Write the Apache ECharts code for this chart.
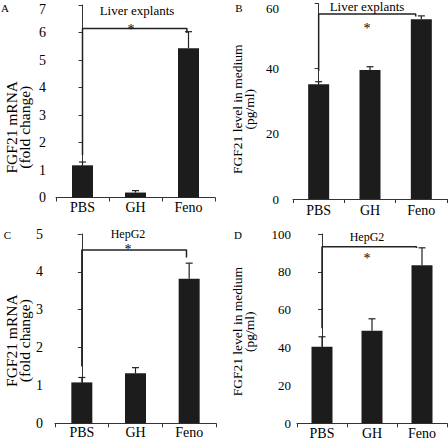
<!DOCTYPE html>
<html>
<head>
<meta charset="utf-8">
<script src="https://cdn.jsdelivr.net/npm/echarts@6/dist/echarts.min.js"></script>
<style>html,body{margin:0;padding:0;background:#fff}#c{width:448px;height:440px}</style>
</head>
<body>
<div id="c"></div>
<script>
// ---- data ----
const categories = ['PBS', 'GH', 'Feno'];
const meanA = [1.17, 0.18, 5.43];
const errA  = [0.12, 0.07, 0.60];
const meanB = [35.2, 39.6, 55.2];
const errB  = [0.8, 1.0, 1.0];
const meanC = [1.08, 1.32, 3.82];
const errC  = [0.13, 0.15, 0.41];
const meanD = [40.4, 48.9, 83.5];
const errD  = [5.3, 6.3, 9.2];
// significance brackets: [category position, value]
const bracketA = [[0, 1.55], [0, 6.15], [1.97, 6.15], [1.97, 5.98]];
const bracketB = [[0, 39.3], [0, 56.8], [1.89, 56.8], [1.89, 56.0]];
const bracketC = [[0, 1.50], [0, 4.58], [1.95, 4.58], [1.95, 4.38]];
const bracketD = [[0, 50.2], [0, 93.3], [1.89, 93.3], [1.89, 92.6]];
// axis ranges
const yMaxA = 7, yStepA = 1;
const yMaxB = 60, yStepB = 20;
const yMaxC = 5, yStepC = 1;
const yMaxD = 100, yStepD = 20;
const panelLetters = ['A', 'B', 'C', 'D'];
const panelTitles = ['Liver explants', 'Liver explants', 'HepG2', 'HepG2'];
const yNames = ['FGF21 mRNA\n(fold change)', 'FGF21 level in medium\n(pg/ml)', 'FGF21 mRNA\n(fold change)', 'FGF21 level in medium\n(pg/ml)'];
const starText = '*';

// ---- layout ----
const FONT = 'Liberation Serif, Times New Roman, serif';
const panels = [
  {mean: meanA, err: errA, br: bracketA, max: yMaxA, step: yStepA, topPad: 8,
   grid: {left: 56, top: 5, width: 159, height: 192.5}, yFont: 14, yMargin: 10, xMargin: 3,
   title: [137, 10], titleFont: 13, letter: [5, 7.5], star: [131, 29], nameGap: 25, nameShift: 52, ylabFont: 15.5, ylabLH: 13},
  {mean: meanB, err: errB, br: bracketB, max: yMaxB, step: yStepB, topPad: 9,
   grid: {left: 293, top: 3.5, width: 154, height: 195.5}, yFont: 13, yMargin: 14, xMargin: 4,
   title: [367, 6], titleFont: 13, letter: [239, 7.5], star: [367, 28], nameGap: 38, nameShift: 16, ylabFont: 13.5, ylabLH: 12},
  {mean: meanC, err: errC, br: bracketC, max: yMaxC, step: yStepC, topPad: 0,
   grid: {left: 55, top: 234, width: 161, height: 189.3}, yFont: 14, yMargin: 12, xMargin: 2,
   title: [128, 234], titleFont: 12, letter: [7.5, 235], star: [128, 249.5], nameGap: 23, nameShift: 24, ylabFont: 15.5, ylabLH: 13},
  {mean: meanD, err: errD, br: bracketD, max: yMaxD, step: yStepD, topPad: 0,
   grid: {left: 297, top: 234, width: 150, height: 189.3}, yFont: 13, yMargin: 6, xMargin: 3,
   title: [367, 236.5], titleFont: 12, letter: [238, 235], star: [367, 258], nameGap: 42, nameShift: 6, ylabFont: 13.5, ylabLH: 12}
];

const AX = '#333';
const option = {
  animation: false,
  backgroundColor: '#fff',
  textStyle: {fontFamily: FONT},
  grid: [], xAxis: [], yAxis: [], series: [], graphic: []
};

panels.forEach((p, i) => {
  option.grid.push(Object.assign({containLabel: false, outerBoundsMode: 'none'}, p.grid));
  option.xAxis.push({
    type: 'category', gridIndex: i, data: categories, boundaryGap: true,
    axisLine: {show: true, lineStyle: {color: AX, width: 1}},
    axisTick: {show: true, length: 4, lineStyle: {color: AX}},
    axisLabel: {color: '#000', fontFamily: FONT, fontSize: 14, margin: p.xMargin},
    splitLine: {show: false}
  });
  option.xAxis.push({type: 'value', gridIndex: i, min: -0.5, max: 2.5, show: false});
  option.yAxis.push({
    type: 'value', gridIndex: i, min: 0, max: p.max, interval: p.step,
    name: yNames[i], nameLocation: 'middle', nameRotate: 90, nameGap: p.nameGap,
    nameTextStyle: {color: '#000', fontFamily: FONT, fontSize: p.ylabFont, lineHeight: p.ylabLH,
      padding: [0, p.nameShift, 0, 0]},
    axisLine: {show: true, lineStyle: {color: AX, width: 1}},
    axisTick: {show: true, length: 4, lineStyle: {color: AX}},
    axisLabel: {color: '#000', fontFamily: FONT, fontSize: p.yFont, margin: p.yMargin,
      formatter: function (v) { return (v === p.max && p.topPad) ? '{t|' + v + '}' : String(v); },
      rich: {t: {color: '#000', fontFamily: FONT, fontSize: p.yFont, padding: [p.topPad, 0, 0, 0]}}},
    splitLine: {show: false}
  });
  const catX = i * 2, valX = i * 2 + 1;
  option.series.push({
    type: 'bar', xAxisIndex: catX, yAxisIndex: i, data: p.mean,
    barWidth: 21, itemStyle: {color: '#1c1c1c'}, z: 2
  });
  option.series.push({
    type: 'custom', xAxisIndex: catX, yAxisIndex: i, z: 3,
    data: p.mean.map((m, k) => [k, m, p.err[k]]),
    encode: {x: 0, y: 1},
    renderItem: function (params, api) {
      const x = api.value(0), m = api.value(1), e = api.value(2);
      const p0 = api.coord([x, m]);
      const p1 = api.coord([x, m + e]);
      const st = {stroke: '#222', lineWidth: 1.2};
      return {type: 'group', children: [
        {type: 'line', shape: {x1: p0[0], y1: p0[1], x2: p1[0], y2: p1[1]}, style: st},
        {type: 'line', shape: {x1: p1[0] - 3.5, y1: p1[1], x2: p1[0] + 3.5, y2: p1[1]}, style: st}
      ]};
    }
  });
  option.series.push({
    type: 'line', xAxisIndex: valX, yAxisIndex: i, data: p.br,
    symbol: 'none', lineStyle: {color: '#222', width: 1.5}, z: 4
  });
  option.graphic.push({type: 'text', x: p.title[0], y: p.title[1],
    style: {text: panelTitles[i], font: p.titleFont + 'px ' + FONT, fill: '#000', align: 'center', verticalAlign: 'middle'}});
  option.graphic.push({type: 'text', x: p.letter[0], y: p.letter[1],
    style: {text: panelLetters[i], font: '11px ' + FONT, fill: '#000', align: 'center', verticalAlign: 'middle'}});
  option.graphic.push({type: 'text', x: p.star[0], y: p.star[1],
    style: {text: starText, font: '14px ' + FONT, fill: '#000', align: 'center', verticalAlign: 'middle'}});
});

const chart = echarts.init(document.getElementById('c'), null, {renderer: 'svg', width: 448, height: 440});
chart.setOption(option);
</script>
</body>
</html>
